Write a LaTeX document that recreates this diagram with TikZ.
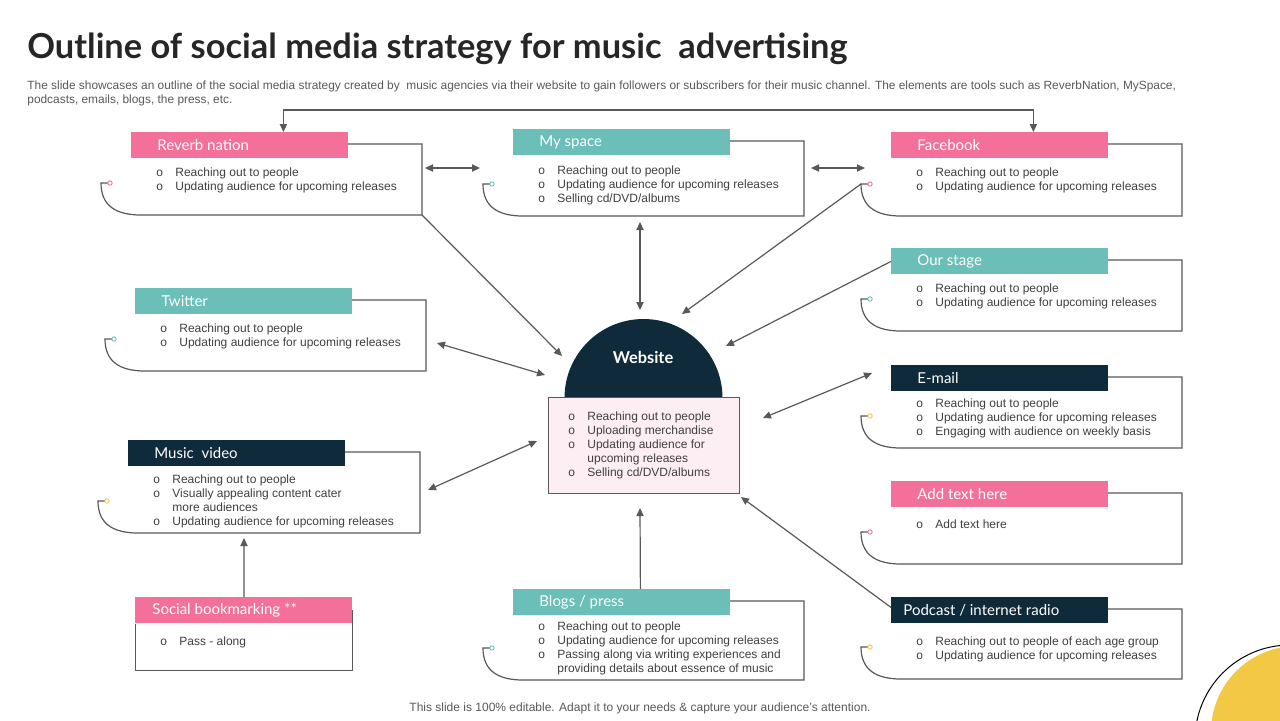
\documentclass[tikz,border=0pt]{standalone}
\usepackage{fontspec}
\setmainfont{Liberation Sans}
\newfontfamily\headfont{Lato}
\usetikzlibrary{arrows.meta}

\definecolor{rosa}{HTML}{F2709A}
\definecolor{mint}{HTML}{6BBFB8}
\definecolor{midnight}{HTML}{0E2A3B}
\definecolor{sun}{HTML}{F3C845}
\definecolor{blush}{HTML}{FDEEF3}
\definecolor{ink}{HTML}{404040}
\definecolor{wire}{HTML}{595959}
\colorlet{hookrosa}{rosa}
\colorlet{hookmint}{mint}
\colorlet{hookmidnight}{sun}

% [first line offset]{name}{colour}{x}{y}{right}{bottom}{title}{rows}
\newcommand{\mediabox}[9][40]{%
\node[headbar,fill=#3] (#2) at (#4,#5) {\makebox[108.5pt][l]{\hspace*{13pt}\raisebox{-0.8pt}{#8}}};
\coordinate (#2-ne) at (#6,#5+12);
\coordinate (#2-se) at (#6,#7);
\coordinate (#2-hook) at (#4-30,#7-32);
\draw[frame] (#4+217,#5+12) -- (#2-ne) -- (#2-se) -- (#4+10,#7) .. controls (#4-16,#7) and (#4-30,#7-10) .. (#2-hook) -- ++(7,0);
\node[hookdot,draw=hook#3] at (#4-21,#7-32) {};
\node[bodytext] at (#4+25,#5+#1-6) {\begin{tabular}{@{}p{9.5pt}@{}l@{}}#9\end{tabular}};
}

\begin{document}
\begin{tikzpicture}[x=0.5pt,y=-0.5pt]
\tikzstyle{headbar} = [rectangle,minimum width=108.5pt,minimum height=13pt,inner sep=0pt,anchor=north west,text=white,font=\headfont\fontsize{7.5}{9}\selectfont]
\tikzstyle{frame} = [draw=wire,line width=0.6pt]
\tikzstyle{hookdot} = [circle,minimum size=2.2pt,inner sep=0pt,line width=0.45pt,fill=white]
\tikzstyle{bodytext} = [inner sep=0pt,anchor=north west,text=ink,font=\fontsize{6}{7}\selectfont]
\tikzstyle{arrow} = [wire,line width=0.6pt,-{Triangle[length=4pt,width=3.6pt]}]
\tikzstyle{biarrow} = [wire,line width=0.6pt,{Triangle[length=4pt,width=3.6pt]}-{Triangle[length=4pt,width=3.6pt]}]

\useasboundingbox (0,0) rectangle (1280,720);
\fill[white] (0,0) rectangle (1280,720);

\begin{scope}
\clip (0,0) rectangle (1280,720);
\node[circle,fill=sun,minimum size=86pt,inner sep=0pt] (sunspot) at (1297,732) {};
\node[circle,draw=black,line width=0.5pt,minimum size=95pt,inner sep=0pt] (sunring) at (1290,740) {};
\end{scope}

\node[anchor=base west,inner sep=0pt,text=black!85,font=\headfont\bfseries\fontsize{17.2}{20}\selectfont] (title) at (27,58) {Outline of social media strategy for music \ advertising};
\node[anchor=north west,inner sep=0pt,align=left,text=wire,font=\fontsize{5.95}{7}\selectfont] (intro) at (27,80) {The slide showcases an outline of the social media strategy created by \ music agencies via their website to gain followers or subscribers for their music channel. The elements are tools such as ReverbNation, MySpace,\\podcasts, emails, blogs, the press, etc.};
\node[inner sep=0pt,text=wire,font=\fontsize{6}{7}\selectfont] (note) at (640,708) {This slide is 100\% editable. Adapt it to your needs \& capture your audience’s attention.};

\mediabox{reverb}{rosa}{131}{132}{422}{215}{Reverb nation}{o & Reaching out to people\\ o & Updating audience for upcoming releases}
\mediabox[41]{myspace}{mint}{513}{129}{804}{216}{My space}{o & Reaching out to people\\ o & Updating audience for upcoming releases\\ o & Selling cd/DVD/albums}
\mediabox{facebook}{rosa}{891}{132}{1182}{216}{Facebook}{o & Reaching out to people\\ o & Updating audience for upcoming releases}
\mediabox{twitter}{mint}{135}{288}{426}{371}{Twitter}{o & Reaching out to people\\ o & Updating audience for upcoming releases}
\mediabox{ourstage}{mint}{891}{248}{1182}{331}{Our stage}{o & Reaching out to people\\ o & Updating audience for upcoming releases}
\mediabox[39]{musicvideo}{midnight}{128}{440}{420}{533}{Music \ video}{o & Reaching out to people\\ o & Visually appealing content cater\\ & more audiences\\ o & Updating audience for upcoming releases}
\mediabox[38]{email}{midnight}{891}{365}{1182}{448}{E-mail}{o & Reaching out to people\\ o & Updating audience for upcoming releases\\ o & Engaging with audience on weekly basis}
\mediabox[43]{addtext}{rosa}{891}{481}{1182}{564}{Add text here}{o & Add text here}
\mediabox[44]{podcast}{midnight}{891}{597}{1182}{679}{\hspace*{-7pt}Podcast / internet radio}{o & Reaching out to people of each age group\\ o & Updating audience for upcoming releases}
\mediabox[37]{blogs}{mint}{513}{589}{804}{680}{Blogs / press}{o & Reaching out to people\\ o & Updating audience for upcoming releases\\ o & Passing along via writing experiences and\\ & providing details about essence of music}

\node[headbar,fill=rosa] (social) at (135,597) {\makebox[108.5pt][l]{\hspace*{8.5pt}\raisebox{-0.8pt}{Social bookmarking **}}};
\draw[frame] ([xshift=0.3pt]social.south west) -- ++(0,47) -| (social.east);
\node[bodytext] at (160,635) {\begin{tabular}{@{}p{9.5pt}@{}l@{}}o & Pass - along\end{tabular}};

\node[circle,fill=midnight,minimum size=79pt,inner sep=0pt] (webdome) at (643.5,398) {};
\node[font=\headfont\bfseries\fontsize{8.2}{10}\selectfont,text=white] (webtitle) at (643,357) {Website};
\node[draw=wire,line width=0.6pt,fill=blush,minimum width=95.5pt,minimum height=48pt,inner sep=0pt,anchor=north west] (webbox) at (548,397) {};
\node[bodytext] at (568,410) {\begin{tabular}{@{}p{9.5pt}@{}l@{}}o & Reaching out to people\\ o & Uploading merchandise\\ o & Updating audience for\\ & upcoming releases\\ o & Selling cd/DVD/albums\end{tabular}};

\coordinate (rv-out) at (425,168);
\coordinate (ms-in) at (480,168);
\coordinate (ms-out) at (811,168);
\coordinate (fb-in) at (865,168);
\coordinate (ms-down) at (640,222);
\coordinate (w-top) at (640,310);
\coordinate (w-fb) at (682,314);
\coordinate (w-rv) at (562,356);
\coordinate (w-os) at (726,346);
\coordinate (tw-out) at (437,343);
\coordinate (w-tw) at (545,375);
\coordinate (mv-out) at (428,490);
\coordinate (w-mv) at (537,441);
\coordinate (w-em) at (763,418);
\coordinate (em-in) at (872,373);
\coordinate (w-pc) at (741,497);
\coordinate (w-bl) at (640,508);
\coordinate (mv-bottom) at (244,538);

\draw[biarrow] ([xshift=21.75pt]reverb.north) -- ++(0,-22) -| ([xshift=16.75pt]facebook.north);
\draw[biarrow] (rv-out) -- (ms-in);
\draw[biarrow] (ms-out) -- (fb-in);
\draw[biarrow] (ms-down) -- (w-top);
\draw[arrow] (facebook-hook) -- (w-fb);
\draw[arrow] (reverb-se) -- (w-rv);
\draw[arrow] (ourstage.west) -- (w-os);
\draw[biarrow] (tw-out) -- (w-tw);
\draw[biarrow] (mv-out) -- (w-mv);
\draw[biarrow] (w-em) -- (em-in);
\draw[arrow] ([yshift=1.5pt]podcast.west) -- (w-pc);
\draw[arrow] ([xshift=9.25pt]blogs.north) -- (w-bl);
\draw[arrow] (social.north) -- (mv-bottom);
\end{tikzpicture}
\end{document}
